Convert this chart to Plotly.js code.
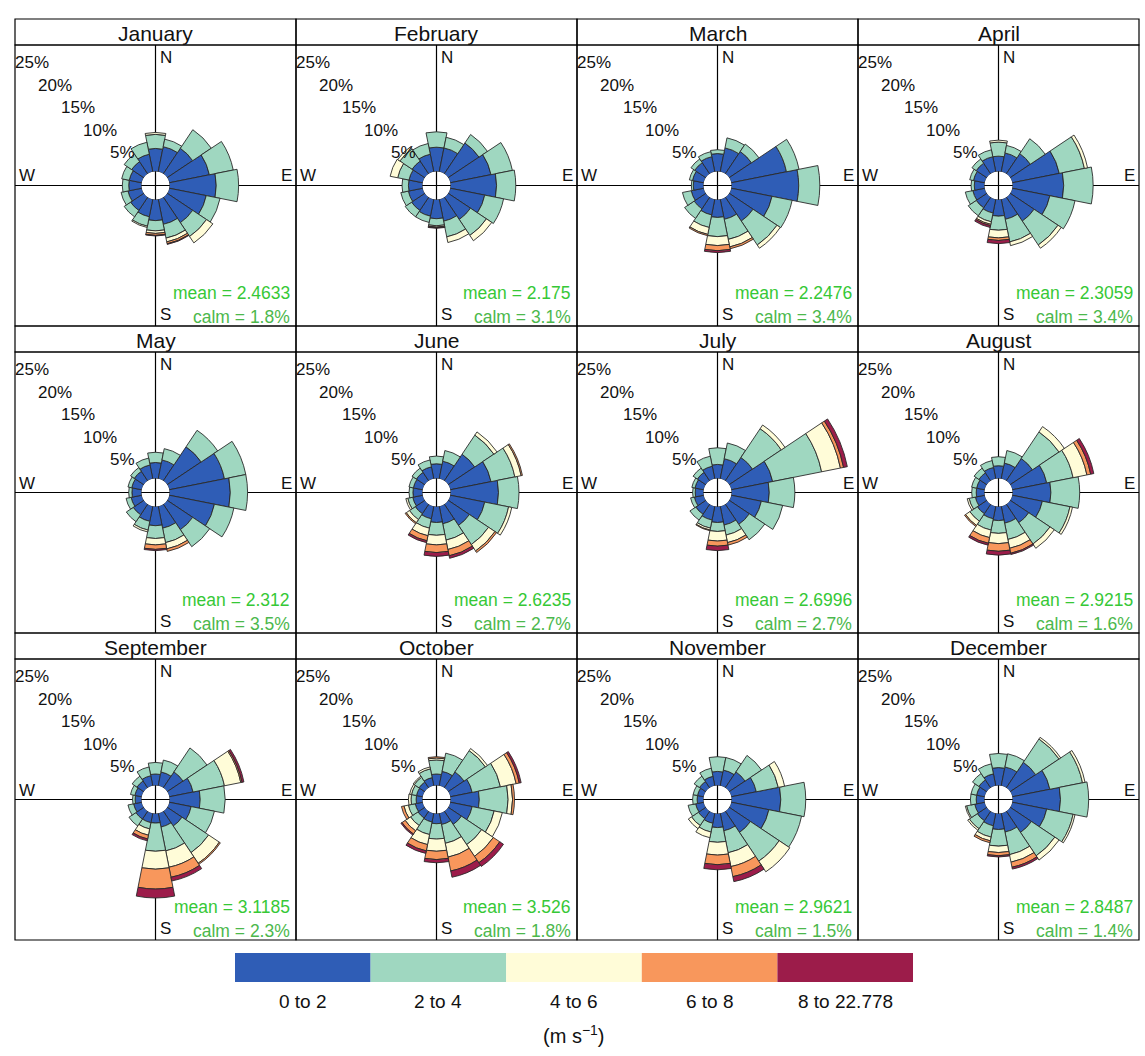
<!DOCTYPE html>
<html>
<head>
<meta charset="utf-8">
<script src="https://cdn.plot.ly/plotly-3.0.1.min.js"></script>
<style>html,body{margin:0;padding:0;background:#fff}</style>
</head>
<body>
<div id="chart" style="width:1145px;height:1056px"></div>
<script>
// ---------------- DATA ----------------
const months = ['January','February','March','April','May','June','July','August','September','October','November','December'];
const directions = [0,22.5,45,67.5,90,112.5,135,157.5,180,202.5,225,247.5,270,292.5,315,337.5]; // N, NNE, ... NNW
const speedBins = ['0 to 2','2 to 4','4 to 6','6 to 8','8 to 22.778'];
const pctTicks = [5,10,15,20,25];
const meanSpeed = ['2.4633','2.175','2.2476','2.3059','2.312','2.6235','2.6996','2.9215','3.1185','3.526','2.9621','2.8487'];
const calmPct = ['1.8','3.1','3.4','3.4','3.5','2.7','2.7','1.6','2.3','1.8','1.5','1.4'];

// frequency (%) per speed bin (rows) and direction (columns N..NNW)
const freqJan = [
  [3.6,4,4.8,6.4,7.3,5.9,4.8,4,3.3,2.8,2.5,2.2,2,2,2.3,2.8],
  [2.2,1.2,3.5,3.8,3.5,2.2,2.6,2.2,1.6,1.5,1.2,1.1,1,1.2,1.4,1.9],
  [0.3,0,0,0,0,0,1.2,0.6,0.4,0.2,0,0,0,0,0,0],
  [0,0,0,0,0,0,0,0.3,0.3,0,0,0,0,0,0,0],
  [0,0,0,0,0,0,0,0.1,0.1,0,0,0,0,0,0,0]];
const freqFeb = [
  [3.8,3.8,5.8,6.5,7.2,5.5,4.2,3.5,3,2.7,2.5,2.3,2.2,2.2,2.4,2.8],
  [2.4,1.7,1.6,3.4,3,3,3,2.5,1.1,1,1.2,1.2,1,1.8,2.3,1.7],
  [0,0,0,0,0,0,1,0.9,0.2,0,0,0,0,1.2,0.4,0],
  [0,0,0,0,0,0,0,0,0.1,0,0,0,0,0,0,0],
  [0,0,0,0,0,0,0,0,0.1,0,0,0,0,0,0,0]];
const freqMar = [
  [2.8,3.8,4.2,8.8,10.5,6.5,4.5,3.2,2.8,2.5,2.2,2,1.6,1.8,2.1,2.4],
  [0.6,1.6,1.4,2,3.3,3.2,4.5,3.2,3,2,1.8,1.4,0.3,0.5,0.7,0.8],
  [0,0,0,0,0,0,0.6,1.2,1.4,1.1,0,0,0,0,0,0],
  [0,0,0,0,0,0,0,0.3,0.8,0.2,0,0,0,0,0,0],
  [0,0,0,0,0,0,0,0,0.3,0,0,0,0,0,0,0]];
const freqApr = [
  [2.4,3,3.8,7.5,8,6,4.5,3.2,2.6,2.2,2,1.9,1.6,1.8,2,2.4],
  [2.2,1.2,2.8,4,4.6,4,4.5,3.6,2.2,1.4,1.5,1.2,0.5,0.6,0.8,1.1],
  [0.3,0,0,0.5,0,0,0.6,0.6,1.2,0.4,0,0,0,0,0,0],
  [0,0,0,0,0,0,0,0,0.4,0.2,0,0,0,0,0,0],
  [0,0,0,0,0,0,0,0,0.5,0.3,0,0,0,0,0,0]];
const freqMay = [
  [2.5,3,6.4,8.8,9.5,7.2,4.8,3.5,3,2.4,2,1.7,1.5,1.6,1.8,2.2],
  [1.6,1.8,3.1,3.4,2.7,3.1,3.2,2.3,2,1.4,1.3,0.8,0.5,0.6,0.7,1.1],
  [0,0,0,0,0,0,0,1,1,0.3,0,0,0,0,0,0],
  [0,0,0,0,0,0,0,0.4,0.7,0,0,0,0,0,0,0],
  [0,0,0,0,0,0,0,0,0.2,0,0,0,0,0,0,0]];
const freqJun = [
  [2.3,2.8,5,6.5,7.5,5.5,4,2.8,2.5,2,1.8,1.6,1.5,1.5,1.6,1.9],
  [1.2,1.7,3.6,3.8,3.2,3.8,3.6,2.6,2,1.5,1.1,0.8,0.6,0.7,0.8,1.1],
  [0,0,0.6,1,0,0.5,1.2,1.5,1.5,1.2,0.6,0.3,0,0,0,0],
  [0,0,0,0.2,0,0,0.3,1,1.2,0.8,0.2,0,0,0,0,0],
  [0,0,0,0,0,0,0,0.4,0.6,0.3,0,0,0,0,0,0]];
const freqJul = [
  [2.2,3.2,4.4,6.6,5.9,4.8,3.8,3,2.5,2.2,1.9,1.5,1.3,1.4,1.6,2],
  [2.6,2.5,5.4,7.8,4,3.4,2.9,1.6,1.4,1.3,1.1,0.6,0.4,0.5,0.8,1.6],
  [0,0,0.7,3,0,0,0,1.2,1.5,0.3,0,0,0,0,0,0],
  [0,0,0,0.5,0,0,0,0.4,0.8,0.1,0,0,0,0,0,0],
  [0,0,0,0.6,0,0,0,0,0.7,0,0,0,0,0,0,0]];
const freqAug = [
  [2,2.5,4.2,5.5,6,4.8,3.5,2.7,2.2,2,1.8,1.5,1.3,1.3,1.5,1.8],
  [1.4,2,5,4.2,4.5,4.4,4,2.6,2,1.8,1.4,1,0.7,0.8,0.9,1.1],
  [0,0,1,2.2,0,0.4,0.8,1.4,1.6,1.2,0.8,0.3,0,0,0,0],
  [0,0,0,0.6,0,0,0,0.8,1.2,0.9,0.2,0,0,0,0,0],
  [0,0,0,0.5,0,0,0,0.2,0.6,0.3,0,0,0,0,0,0]];
const freqSep = [
  [1.8,2.2,3,3.8,4.8,3.5,2.8,2.2,1.5,1.5,1.5,1.3,1,1.1,1.3,1.6],
  [1.8,1.9,4.5,5,3.9,3.7,5,3.8,4.4,1,1.3,0.9,0.4,0.7,0.9,1.4],
  [0,0,0,2.6,0,0,2,2.6,2.8,1,0,0,0,0,0,0],
  [0,0,0,0.2,0,0,0.2,1.6,3.1,0.6,0,0,0,0,0,0],
  [0,0,0,0.3,0,0,0,0.6,1.4,0.3,0,0,0,0,0,0]];
const freqOct = [
  [1.8,2.3,3,3.5,4.5,3.5,2.5,1.8,1.6,1.4,1.3,1.2,1,1,1.1,1.3],
  [2.2,2.9,4,4.5,4.5,3.5,3.8,3,2.4,2,1.4,1.1,0.8,0.8,0.9,1.4],
  [0.3,0,0.4,2.5,0.7,1.3,2.2,2.2,1.9,1.6,1,0.7,0.4,0.3,0.2,0.3],
  [0.2,0,0,0.5,0.3,0,1.2,2.2,1.3,1,0.6,0.4,0,0,0,0],
  [0,0,0,0.3,0,0,0.7,1,0.5,0.4,0.2,0,0,0,0,0]];
const freqNov = [
  [2.2,2.5,3,4,7.7,6,4,2.8,2.2,1.6,1.4,1.3,1,1,1.2,1.5],
  [2.3,2,3.1,3.5,3.9,5.2,5.4,3.5,2.3,1.4,1.3,1.2,0.7,0.7,1,1.3],
  [0,0,0,1,0,0,2,2.2,2,0.9,0.6,0,0,0,0,0],
  [0,0,0,0,0,0,0,1.6,1.5,0,0,0,0,0,0,0],
  [0,0,0,0,0,0,0,0.8,0.8,0,0,0,0,0,0,0]];
const freqDec = [
  [2.8,3,4.8,6,7.5,5.5,4,3,2.5,2,1.8,1.6,1.3,1.3,1.5,1.9],
  [2.2,2.1,4.4,5.2,4.4,4.2,4.4,3.6,2.6,1.8,1.5,1.3,0.9,0.9,1.2,1.6],
  [0,0,0.3,0.4,0,0.3,0.8,1.2,1,0.6,0.3,0.2,0,0,0,0],
  [0,0,0,0,0,0,0,0.8,0.5,0.3,0,0,0,0,0,0],
  [0,0,0,0,0,0,0,0.3,0.2,0,0,0,0,0,0,0]];

const monthFreq = [freqJan,freqFeb,freqMar,freqApr,freqMay,freqJun,freqJul,freqAug,freqSep,freqOct,freqNov,freqDec];

// ---------------- STYLE / LAYOUT ----------------
const binColors = ['#2f5db6','#9fd7c0','#fffcd8','#f8975c','#9c1c4a'];
const FONT = 'Liberation Sans, Arial, Helvetica, sans-serif';
const FW = 1145, FH = 1056;
const GRID_L = 15, COL_W = 281, GRID_T = 19, ROW_H = 307, STRIP_H = 26;
const HOLE_PX = 14, PX_PER_PCT = 6.4;
const R_PX = (ROW_H - STRIP_H) / 2;
const HOLE = HOLE_PX / R_PX;
const RMAX = (R_PX - HOLE_PX) / PX_PER_PCT;
const LABEL_ANGLE = 315;

const X = px => px / FW;
const Y = py => 1 - py / FH;

const traces = [];
const layout = {
  width: FW, height: FH,
  margin: {l:0, r:0, t:0, b:0},
  paper_bgcolor: '#fff',
  showlegend: false,
  font: {family: FONT, color: '#111'},
  shapes: [], annotations: []
};

months.forEach((mName, m) => {
  const c = m % 4, rw = Math.floor(m / 4);
  const x0 = GRID_L + c * COL_W, x1 = x0 + COL_W;
  const yT = GRID_T + rw * ROW_H, yS = yT + STRIP_H, yB = yT + ROW_H;
  const cx = (x0 + x1) / 2, cy = (yS + yB) / 2;
  const sp = 'polar' + (m === 0 ? '' : (m + 1));

  layout[sp] = {
    domain: {x: [X(x0), X(x1)], y: [Y(yB), Y(yS)]},
    hole: HOLE,
    bgcolor: 'rgba(0,0,0,0)',
    barmode: 'stack',
    radialaxis: {range: [0, RMAX], visible: false, showgrid: false},
    angularaxis: {rotation: 90, direction: 'clockwise', visible: false, showgrid: false}
  };

  monthFreq[m].forEach((vals, b) => {
    traces.push({
      type: 'barpolar', subplot: sp,
      r: vals.map(v => v > 0 ? v : null),
      theta: directions,
      width: directions.map(() => 22.5),
      name: speedBins[b],
      marker: {color: binColors[b], line: {color: '#2a2a2a', width: 0.9}},
      hoverinfo: 'skip', showlegend: false
    });
  });

  const ln = {color: '#000', width: 1.2};
  layout.shapes.push(
    {type:'rect', xref:'paper', yref:'paper', x0:X(x0), x1:X(x1), y0:Y(yS), y1:Y(yT), line:ln, fillcolor:'rgba(0,0,0,0)', layer:'below'},
    {type:'rect', xref:'paper', yref:'paper', x0:X(x0), x1:X(x1), y0:Y(yB), y1:Y(yS), line:ln, fillcolor:'rgba(0,0,0,0)', layer:'below'},
    {type:'line', xref:'paper', yref:'paper', x0:X(cx), x1:X(cx), y0:Y(yB), y1:Y(yS), line:ln, layer:'below'},
    {type:'line', xref:'paper', yref:'paper', x0:X(x0), x1:X(x1), y0:Y(cy), y1:Y(cy), line:ln, layer:'below'}
  );

  const ann = (x, y, text, xa, ya, size, color) => layout.annotations.push({
    xref:'paper', yref:'paper', x:X(x), y:Y(y), text, showarrow:false,
    xanchor:xa, yanchor:ya, font:{size, color, family:FONT}
  });

  // percentage labels along the NW diagonal, positioned with the rose's radial scale
  pctTicks.forEach(v => {
    const rp = HOLE_PX + PX_PER_PCT * v;
    const a = LABEL_ANGLE * Math.PI / 180;
    ann(cx + rp * Math.sin(a), cy - rp * Math.cos(a), v + '%', 'center', 'middle', 17, '#111');
  });

  ann(cx, yT + STRIP_H / 2 + 1, mName, 'center', 'middle', 21, '#111');
  ann(cx + 2, yS + 1, 'N', 'left', 'top', 17, '#111');
  ann(cx + 2, yB, 'S', 'left', 'bottom', 17, '#111');
  ann(x0 + 2, cy + 2, 'W', 'left', 'bottom', 17, '#111');
  ann(x1 - 2, cy + 2, 'E', 'right', 'bottom', 17, '#111');
  ann(x1 - 4, yB - 33, 'mean = ' + meanSpeed[m], 'right', 'middle', 17.5, '#36c836');
  ann(x1 - 4, yB - 9, 'calm = ' + calmPct[m] + '%', 'right', 'middle', 17.5, '#4cb84c');
});

// speed legend
const LEG_X0 = 235, LEG_W = 135.6, LEG_Y0 = 953, LEG_Y1 = 982;
speedBins.forEach((lab, b) => {
  const lx0 = LEG_X0 + b * LEG_W, lx1 = lx0 + LEG_W;
  layout.shapes.push({type:'rect', xref:'paper', yref:'paper', x0:X(lx0), x1:X(lx1), y0:Y(LEG_Y1), y1:Y(LEG_Y0),
    line:{width:0}, fillcolor: binColors[b]});
  layout.annotations.push({xref:'paper', yref:'paper', x:X((lx0+lx1)/2), y:Y(1001), text:lab, showarrow:false,
    xanchor:'center', yanchor:'middle', font:{size:19, color:'#111', family:FONT}});
});
layout.annotations.push({xref:'paper', yref:'paper', x:X(LEG_X0 + 2.5*LEG_W), y:Y(1034), text:'(m s<sup>−1</sup>)', showarrow:false,
  xanchor:'center', yanchor:'middle', font:{size:20, color:'#111', family:FONT}});

Plotly.newPlot('chart', traces, layout, {staticPlot: true, displayModeBar: false});
</script>
</body>
</html>
